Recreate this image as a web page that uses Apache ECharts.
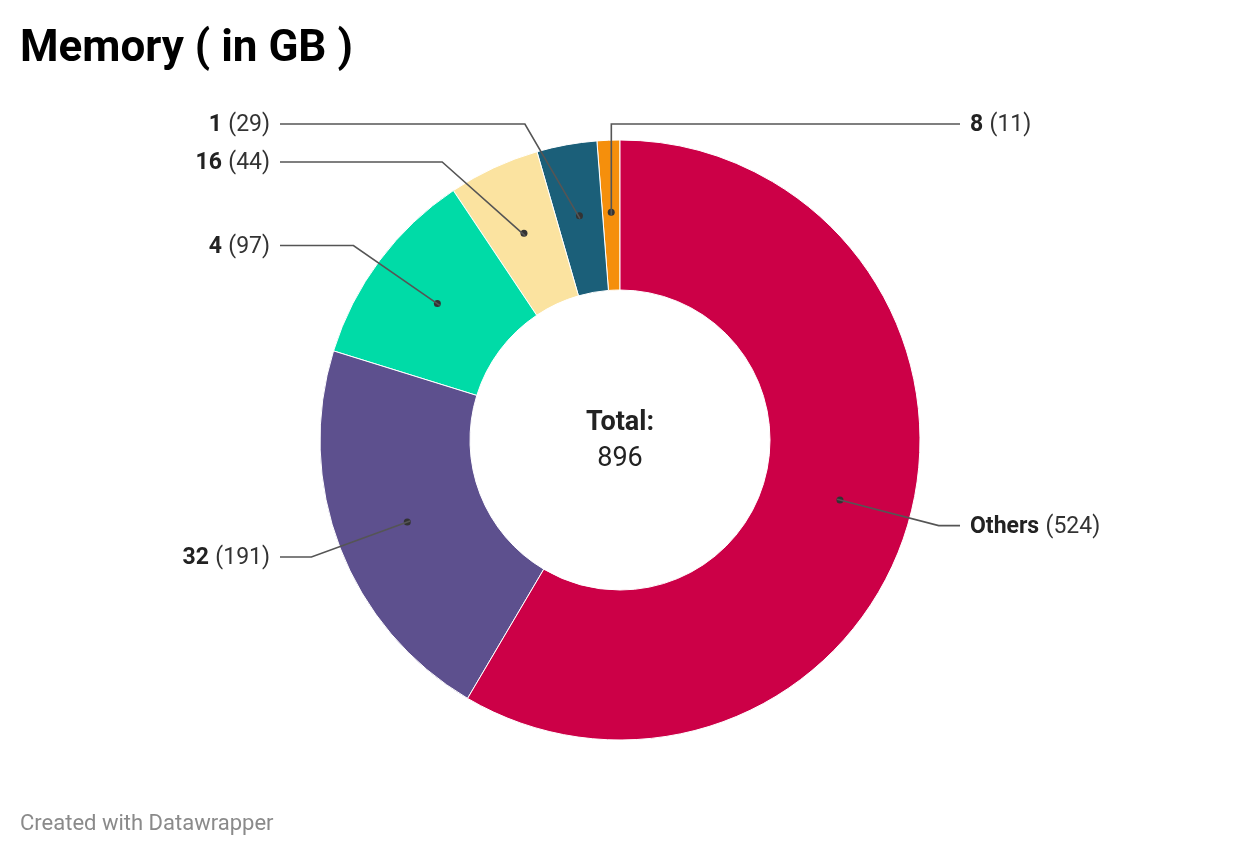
<!DOCTYPE html>
<html>
<head>
<meta charset="utf-8">
<script src="https://cdn.jsdelivr.net/npm/echarts@6/dist/echarts.min.js"></script>
<style>
html,body{margin:0;padding:0;background:#fff;}
#chart{width:1240px;height:856px;}
</style>
</head>
<body>
<div id="chart"></div>
<script>
// ---- data (listed counter-clockwise from 12 o'clock) ----
const categories = ['8', '1', '16', '4', '32', 'Others'];
const values = [11, 29, 44, 97, 191, 524];
const colors = ['#f58f0c', '#1b5f79', '#fbe3a0', '#00dba7', '#5d508e', '#cc0047'];
const titleText = 'Memory ( in GB )';
const footerText = 'Created with Datawrapper';
const totalLabel = 'Total:';

// ---- layout constants ----
const CX = 620, CY = 440, R0 = 150, R = 300;
const LABEL_RAD = 325, BEND_RAD = 330, MAX_DY = 316, MIN_GAP = 38;
const LEFT_LINE_END = 280, RIGHT_LINE_END = 960, LABEL_GAP = 10;

const total = values.reduce((a, b) => a + b, 0);
const FONT = 'Roboto, "Noto Sans", sans-serif';

const chart = echarts.init(document.getElementById('chart'));

let lastY = { left: -Infinity, right: -Infinity };

function layoutLabel(params) {
  if (params.dataIndex === 0) lastY = { left: -Infinity, right: -Infinity };
  const pts = params.labelLinePoints;
  if (!pts) return {};
  const p0 = pts[0];
  const dx = p0[0] - CX, dy = p0[1] - CY;
  const mid = (R0 + R) / 2 / R;
  const dot = [CX + dx * mid, CY + dy * mid];
  const right = dx > -15;
  const side = right ? 'right' : 'left';
  let y = CY + dy * LABEL_RAD / R;
  y = Math.max(CY - MAX_DY, Math.min(CY + MAX_DY, y));
  if (y < lastY[side] + MIN_GAP) y = lastY[side] + MIN_GAP;
  lastY[side] = y;
  const ddy = y - CY;
  const bx = Math.sqrt(Math.max(0, BEND_RAD * BEND_RAD - ddy * ddy));
  let points;
  if (right && dx < 0) {
    points = [dot, [dot[0], y], [RIGHT_LINE_END, y]];
  } else if (right) {
    points = [dot, [CX + bx, y], [RIGHT_LINE_END, y]];
  } else {
    points = [dot, [CX - bx, y], [LEFT_LINE_END, y]];
  }
  return {
    x: right ? RIGHT_LINE_END + LABEL_GAP : LEFT_LINE_END - LABEL_GAP,
    y: y + 1.5,
    align: right ? 'left' : 'right',
    verticalAlign: 'middle',
    labelLinePoints: points
  };
}

chart.setOption({
  animation: false,
  title: [{
    text: titleText,
    left: 15, top: 23,
    textStyle: { fontFamily: FONT, fontSize: 44, fontWeight: 'bold', color: '#000' }
  }, {
    text: footerText,
    left: 15, top: 808,
    textStyle: { fontFamily: FONT, fontSize: 22, fontWeight: 'normal', color: '#8a8a8a' }
  }],
  graphic: [{
    type: 'text', x: CX, y: 423,
    style: { text: totalLabel, textAlign: 'center', textVerticalAlign: 'middle', fontFamily: FONT, fontSize: 27, fontWeight: 'bold', fill: '#222' }
  }, {
    type: 'text', x: CX, y: 459,
    style: { text: String(total), textAlign: 'center', textVerticalAlign: 'middle', fontFamily: FONT, fontSize: 27, fontWeight: 'normal', fill: '#222' }
  }],
  series: [{
    type: 'pie',
    z: 2,
    center: [CX, CY],
    radius: [R0, R],
    startAngle: 90,
    clockwise: false,
    avoidLabelOverlap: false,
    silent: true,
    data: categories.map((c, i) => ({ name: c, value: values[i], itemStyle: { color: colors[i] } })),
    itemStyle: { borderColor: '#fff', borderWidth: 1 },
    emphasis: { disabled: true },
    label: {
      show: true,
      position: 'inside',
      formatter: '{d|}',
      rich: { d: { width: 7, height: 7, borderRadius: 3.5, backgroundColor: '#333' } }
    },
    labelLine: { show: false }
  }, {
    type: 'pie',
    z: 3,
    center: [CX, CY],
    radius: [R0, R],
    startAngle: 90,
    clockwise: false,
    avoidLabelOverlap: false,
    silent: true,
    data: categories.map((c, i) => ({ name: c, value: values[i] })),
    itemStyle: { color: 'rgba(0,0,0,0)', borderWidth: 0 },
    emphasis: { disabled: true },
    label: {
      show: true,
      position: 'outside',
      formatter: '{n|{b}} {v|({c})}',
      rich: {
        n: { fontFamily: FONT, fontSize: 23, fontWeight: 'bold', color: '#222' },
        v: { fontFamily: FONT, fontSize: 23, fontWeight: 'normal', color: '#333', padding: [0, 0, 0, 3] }
      }
    },
    labelLine: { show: true, length: 20, length2: 20, lineStyle: { color: '#555', width: 1.6 } },
    labelLayout: layoutLabel
  }]
});
</script>
</body>
</html>
